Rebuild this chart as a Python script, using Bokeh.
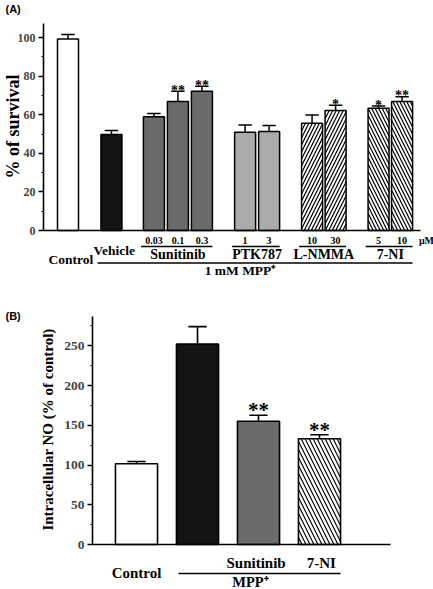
import math
from bokeh.plotting import figure
from bokeh.models import ColumnDataSource, FixedTicker, Label, Range1d, LinearAxis
from bokeh.layouts import column
from bokeh.embed import file_html
from bokeh.resources import INLINE
from bokeh.core.properties import value

# ---------------- data : panel A ----------------
a_groups = ["Control", "Vehicle", "Sunitinib", "Sunitinib", "Sunitinib",
            "PTK787", "PTK787", "L-NMMA", "L-NMMA", "7-NI", "7-NI"]
a_doses = ["", "", "0.03", "0.1", "0.3", "1", "3", "10", "30", "5", "10"]
a_survival = [99.2, 49.7, 58.9, 66.8, 72.2, 50.9, 51.3, 55.6, 62.2, 63.4, 66.8]
a_sem = [2.4, 2.1, 1.7, 5.4, 2.6, 3.8, 3.1, 4.2, 2.7, 1.1, 2.5]
a_sig = ["", "", "", "**", "**", "", "", "", "*", "*", "**"]
a_ticks = [0, 20, 40, 60, 80, 100]
a_minor = [10, 30, 50, 70, 90]

# ---------------- data : panel B ----------------
b_groups = ["Control", "MPP+", "Sunitinib", "7-NI"]
b_no = [101.5, 252.0, 155.0, 133.0]
b_sem = [2.9, 22.0, 7.6, 5.0]
b_sig = ["", "", "**", "**"]
b_ticks = [0, 50, 100, 150, 200, 250]
b_minor = [25, 75, 125, 175, 225, 275]

# ---------------- layout / style ----------------
SERIF = "Liberation Serif"
SANS = "Liberation Sans"
W = 433
HA, HB = 290, 299

# panel A geometry (page pixels -> data)
a_x = [0, 1.81, 3.58, 4.58, 5.58, 7.38, 8.38, 10.17, 11.15, 12.94, 13.92]
a_w = 0.875
a_cap = 0.28
A_UX, A_X0 = 24.0, 67.5        # px per x unit, px of bar 0
A_UY, A_Y0 = 1.93, 230.0       # px per y unit, px of y=0
A_AXL, A_AXR, A_AXT = 43, 420, 23
a_fill = ["white", "#141414", "#6b6b6b", "#6b6b6b", "#6b6b6b",
          "#ababab", "#ababab", "white", "white", "white", "white"]
a_hatch = [" ", " ", " ", " ", " ", " ", " ", "/", "/", "\\", "\\"]

# panel B geometry
b_x = [0, 1, 2, 3]
b_w = 0.69
b_cap = 0.15
B_UX, B_X0 = 61.0, 136.0
B_UY, B_Y0 = 0.795, 544.0 - HA
B_AXL, B_AXR, B_AXT = 92, 390, 316 - HA
b_fill = ["white", "#141414", "#6b6b6b", "white"]
b_hatch = [" ", " ", " ", "\\"]


def make_panel(height, ux, x0, uy, y0, axl, axr, axt, ticks, minor, tick_size):
    xr = Range1d(-x0 / ux, (W - x0) / ux)
    yr = Range1d(-(height - y0) / uy, y0 / uy)
    p = figure(width=W, height=height, x_range=xr, y_range=yr,
               min_border=0, x_axis_location=None, y_axis_location=None,
               output_backend="svg", toolbar_location=None, title=None)
    p.outline_line_color = None
    p.xgrid.visible = False
    p.ygrid.visible = False
    p.background_fill_color = "white"
    p.border_fill_color = "white"
    xlo, xhi = (axl - x0) / ux, (axr - x0) / ux
    ytop = (y0 - axt) / uy
    yax = LinearAxis(fixed_location=xlo, bounds=(0, ytop),
                     ticker=FixedTicker(ticks=ticks, minor_ticks=minor))
    yax.axis_line_width = 1.6
    yax.axis_line_color = "black"
    yax.major_tick_in = 0
    yax.major_tick_out = 5
    yax.minor_tick_in = 0
    yax.minor_tick_out = 2
    yax.major_tick_line_width = 1.3
    yax.minor_tick_line_width = 1.0
    yax.major_label_text_font = SERIF
    yax.major_label_text_font_style = "bold"
    yax.major_label_text_font_size = tick_size
    yax.major_label_standoff = 3
    p.add_layout(yax, "left")
    xax = LinearAxis(fixed_location=0, bounds=(xlo, xhi), ticker=FixedTicker(ticks=[]))
    xax.major_label_text_font_size = "0px"
    xax.major_tick_line_color = None
    xax.minor_tick_line_color = None
    xax.axis_line_width = 1.6
    xax.axis_line_color = "black"
    p.add_layout(xax, "below")
    return p


def label(p, x, y, text, size, align="center", baseline="middle", font=SERIF, angle=0.0):
    p.add_layout(Label(x=x, y=y, text=text, text_font=font, text_font_style="bold",
                       text_font_size=size, text_align=align, text_baseline=baseline,
                       angle=angle, text_color="black"))


def bars(p, xs, vals, sems, sig, fill, hatch, width, cap, lw, hscale, star_size, star_off):
    err = [v + e for v, e in zip(vals, sems)]
    src = ColumnDataSource(dict(x=xs, top=vals, err=err, fill=fill, hatch=hatch, sig=sig,
                                xl=[x - cap for x in xs], xr=[x + cap for x in xs]))
    p.vbar(x="x", top="top", bottom=0, width=width, source=src, fill_color="fill",
           line_color="black", line_width=lw, hatch_pattern="hatch", hatch_color="black",
           hatch_scale=hscale, hatch_weight=1.2)
    p.segment(x0="x", y0="top", x1="x", y1="err", source=src, line_color="black", line_width=lw)
    p.segment(x0="xl", y0="err", x1="xr", y1="err", source=src, line_color="black", line_width=lw)
    p.text(x="x", y="err", text="sig", source=src, text_align="center",
           text_baseline="alphabetic", y_offset=star_off, text_font=value(SERIF),
           text_font_style="bold", text_font_size=star_size, text_color="black")


# ================= panel A =================
pA = make_panel(HA, A_UX, A_X0, A_UY, A_Y0, A_AXL, A_AXR, A_AXT, a_ticks, a_minor, "12px")
bars(pA, a_x, a_survival, a_sem, a_sig, a_fill, a_hatch, a_w, a_cap, 1.5, 7, "14px", -1)


def xa(px):
    return (px - A_X0) / A_UX


def ya(py):
    return (A_Y0 - py) / A_UY


for x, d in zip(a_x, a_doses):
    if d:
        label(pA, x, ya(240), d, "10px")
label(pA, xa(426), ya(240), "\u03bcM", "10px")

group_order = ["Sunitinib", "PTK787", "L-NMMA", "7-NI"]
seg_x0, seg_x1, seg_y = [], [], []
for g in group_order:
    xs = [x for x, gg in zip(a_x, a_groups) if gg == g]
    seg_x0.append(min(xs) - a_w / 2 - 0.1)
    seg_x1.append(max(xs) + a_w / 2)
    seg_y.append(ya(246))
    label(pA, sum(xs) / len(xs), ya(254), g, "14px")
seg_x0.append(xa(97))
seg_x1.append(xa(412))
seg_y.append(ya(262.5))
pA.segment(x0=seg_x0, y0=seg_y, x1=seg_x1, y1=seg_y, line_color="black", line_width=1.5)
label(pA, a_x[1] + 0.12, ya(250), "Vehicle", "13.5px")
label(pA, a_x[0] + 0.12, ya(259), "Control", "13.5px")
label(pA, xa(240), ya(270), "1 mM MPP\u207a", "13.5px")
label(pA, xa(12.5), ya(126), "% of survival", "18px", angle=math.pi / 2)
label(pA, xa(5), ya(8), "(A)", "11px", align="left", font=SANS)

# ================= panel B =================
pB = make_panel(HB, B_UX, B_X0, B_UY, B_Y0, B_AXL, B_AXR, B_AXT, b_ticks, b_minor, "13.5px")
bars(pB, b_x, b_no, b_sem, b_sig, b_fill, b_hatch, b_w, b_cap, 1.6, 8, "21px", -5)


def xb(px):
    return (px - B_X0) / B_UX


def yb(py):
    return (B_Y0 - (py - HA)) / B_UY


label(pB, b_x[2] - 0.04, yb(562), "Sunitinib", "15px")
label(pB, b_x[3] + 0.03, yb(562), "7-NI", "15px")
label(pB, b_x[0], yb(572), "Control", "15px")
pB.segment(x0=[xb(178)], y0=[yb(573)], x1=[xb(340)], y1=[yb(573)], line_color="black", line_width=1.5)
label(pB, xb(250), yb(581), "MPP\u207a", "14.5px")
label(pB, xb(47), yb(429), "Intracellular NO (% of control)", "15px", angle=math.pi / 2)
label(pB, xb(5), yb(315), "(B)", "11px", align="left", font=SANS)

layout = column(pA, pB)
open("out.html", "w").write(file_html(layout, INLINE))
